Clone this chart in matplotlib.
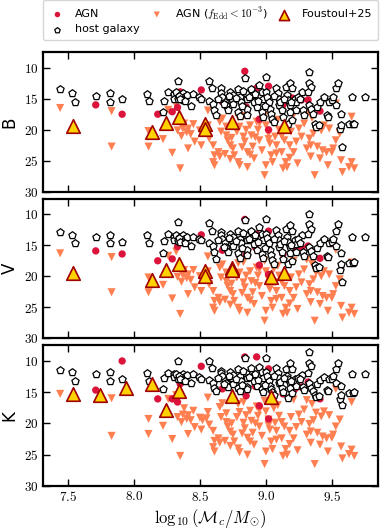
import matplotlib
matplotlib.use("Agg")
import matplotlib.pyplot as plt
from matplotlib.ticker import FixedLocator, FuncFormatter

plt.rcParams['mathtext.fontset'] = 'cm'
plt.rcParams['font.family'] = ['DejaVu Sans']

bands = ['B', 'V', 'K']

# host galaxies: mass and magnitudes per band
host_mass = [7.44, 7.53, 7.55, 7.71, 7.82, 7.82, 7.91, 8.10, 8.11, 8.22,
             8.23, 8.26, 8.30, 8.30, 8.33, 8.32, 8.35, 8.36, 8.37, 8.38,
             8.33, 8.37, 8.40, 8.43, 8.45, 8.49, 8.51, 8.57, 8.59, 8.57,
             8.60, 8.61, 8.62, 8.66, 8.66, 8.67, 8.69, 8.70, 8.71, 8.73,
             8.74, 8.75, 8.75, 8.79, 8.80, 8.81, 8.79, 8.80, 8.84, 8.85,
             8.86, 8.86, 8.86, 8.89, 8.90, 8.91, 8.93, 8.95, 8.97, 8.98,
             8.97, 8.98, 9.00, 9.00, 9.01, 9.02, 9.03, 9.04, 9.05, 9.06,
             9.08, 9.09, 9.10, 9.10, 9.12, 9.13, 9.15, 9.16, 9.17, 9.18,
             9.18, 9.17, 9.18, 9.20, 9.22, 9.23, 9.20, 9.23, 9.27, 9.28,
             9.29, 9.33, 9.33, 9.34, 9.32, 9.33, 9.34, 9.36, 9.37, 9.38,
             9.40, 9.39, 9.41, 9.44, 9.46, 9.47, 9.48, 9.50, 9.51, 9.53,
             9.55, 9.53, 9.57, 9.56, 9.57, 9.58, 9.63, 9.66, 9.67, 9.65,
             9.75, 8.34, 8.35, 8.39, 8.64, 8.68, 8.72, 8.77, 8.82, 8.87,
             8.92, 8.94, 8.99, 9.06, 9.11, 9.14, 9.19, 9.24, 9.26, 8.83]
host_B = [13.5, 14.1, 15.6, 14.5, 14.1, 15.6, 15.0, 14.2, 15.4, 17.1,
          15.3, 14.0, 14.3, 15.0, 12.1, 14.0, 14.4, 14.8, 14.1, 14.7,
          15.0, 15.2, 14.4, 16.1, 14.3, 14.7, 15.0, 12.1, 13.3, 15.4,
          15.8, 16.8, 17.6, 13.3, 14.1, 14.7, 15.5, 16.0, 16.8, 13.9,
          15.0, 14.4, 15.8, 13.5, 14.7, 15.5, 17.1, 17.8, 11.7, 14.1,
          15.0, 16.6, 17.6, 13.5, 14.4, 15.5, 16.4, 12.8, 13.9, 15.0,
          17.1, 17.9, 11.5, 13.9, 14.7, 15.5, 16.6, 17.4, 18.2, 18.7,
          13.3, 14.1, 15.0, 16.0, 16.8, 17.9, 13.1, 14.4, 15.2, 16.0,
          17.1, 19.0, 12.5, 13.3, 15.0, 15.5, 18.4, 16.8, 14.0, 16.8,
          17.6, 10.7, 12.5, 13.1, 13.9, 16.0, 16.6, 17.4, 19.0, 19.5,
          19.3, 16.3, 15.5, 14.7, 17.6, 17.9, 15.5, 15.2, 14.7, 13.3,
          12.5, 16.0, 17.4, 19.8, 19.3, 22.7, 19.0, 19.0, 19.0, 14.7,
          14.7, 14.6, 15.1, 15.4, 15.0, 15.9, 14.5, 14.9, 16.2, 14.8,
          14.2, 15.3, 16.2, 14.6, 15.5, 15.0, 15.5, 14.7, 15.1, 13.8]
host_V = [12.8, 13.3, 14.6, 13.7, 13.3, 14.7, 14.4, 13.3, 14.6, 16.2,
          14.3, 13.2, 13.6, 14.2, 11.3, 13.3, 13.6, 14.0, 13.4, 13.9,
          14.3, 14.5, 13.6, 15.1, 13.6, 13.9, 14.1, 11.4, 12.6, 14.6,
          15.1, 16.1, 17.2, 12.8, 13.4, 13.9, 14.7, 15.2, 16.0, 13.1,
          14.2, 13.6, 15.1, 12.7, 13.9, 14.7, 16.3, 17.0, 10.9, 13.4,
          14.2, 15.8, 16.6, 12.6, 13.7, 14.8, 15.7, 12.1, 13.2, 14.2,
          16.4, 17.1, 10.8, 13.1, 13.8, 14.6, 15.8, 16.5, 17.4, 18.0,
          12.5, 13.4, 14.2, 15.2, 16.1, 17.2, 12.4, 13.7, 14.5, 15.3,
          16.3, 18.1, 11.7, 12.7, 14.2, 14.8, 17.6, 16.0, 13.3, 16.0,
          16.8, 10.0, 11.6, 12.4, 13.2, 15.2, 15.9, 16.7, 18.2, 18.6,
          18.5, 15.5, 14.7, 13.9, 16.7, 16.9, 14.6, 14.4, 13.9, 12.6,
          11.6, 15.1, 16.2, 19.0, 18.0, 21.0, 17.8, 17.8, 17.7, 13.6,
          13.6, 13.8, 14.4, 14.6, 14.2, 15.3, 13.8, 14.3, 15.5, 14.0,
          13.4, 14.5, 15.5, 13.9, 14.8, 14.3, 14.9, 14.0, 14.6, 13.0]
host_K = [11.5, 11.8, 13.2, 12.2, 11.8, 13.2, 13.0, 12.0, 13.2, 14.5,
          12.7, 12.0, 12.2, 12.6, 10.0, 12.1, 12.4, 12.8, 12.2, 12.6,
          12.9, 13.1, 12.3, 13.6, 12.1, 12.6, 12.9, 10.0, 11.2, 13.1,
          13.6, 14.4, 14.8, 11.6, 12.0, 12.4, 13.2, 13.6, 14.2, 11.8,
          12.7, 12.3, 13.7, 11.3, 12.5, 13.3, 14.4, 14.9, 9.6, 12.0,
          12.8, 14.2, 14.6, 11.2, 12.4, 13.3, 14.1, 11.0, 11.8, 12.7,
          14.5, 15.0, 9.5, 11.8, 12.5, 13.2, 14.0, 14.6, 15.0, 15.4,
          11.2, 12.0, 12.8, 13.6, 14.3, 15.0, 11.3, 12.4, 13.0, 13.6,
          14.3, 15.9, 10.4, 11.4, 12.9, 13.3, 15.2, 14.1, 12.3, 14.2,
          14.7, 8.6, 10.3, 10.8, 11.9, 13.5, 14.3, 14.9, 15.4, 15.8,
          15.6, 13.8, 13.1, 12.6, 14.7, 14.9, 13.0, 12.9, 12.5, 11.4,
          10.4, 13.6, 14.1, 16.1, 15.4, 17.0, 15.1, 15.1, 15.0, 12.1,
          12.1, 12.5, 12.9, 13.2, 12.8, 13.8, 12.4, 12.9, 13.9, 12.6,
          12.1, 13.1, 13.9, 12.5, 13.4, 12.8, 13.3, 12.7, 13.0, 11.7]

# AGN with f_Edd < 1e-3
low_mass = [7.44, 7.83, 7.83, 8.11, 8.11, 8.22, 8.26, 8.29, 8.35, 8.32,
            8.33, 8.37, 8.38, 8.41, 8.43, 8.45, 8.41, 8.50, 8.51, 8.52,
            8.55, 8.56, 8.57, 8.60, 8.61, 8.64, 8.65, 8.60, 8.61, 8.65,
            8.67, 8.66, 8.70, 8.71, 8.73, 8.75, 8.76, 8.73, 8.79, 8.80,
            8.78, 8.80, 8.83, 8.84, 8.85, 8.86, 8.86, 8.88, 8.89, 8.90,
            8.91, 8.93, 8.94, 8.95, 8.97, 8.99, 9.00, 9.02, 9.00, 8.99,
            9.03, 9.04, 9.05, 9.07, 9.08, 9.09, 9.10, 9.12, 9.13, 9.14,
            9.15, 9.16, 9.18, 9.19, 9.21, 9.21, 9.23, 9.24, 9.27, 9.29,
            9.31, 9.33, 9.34, 9.34, 9.36, 9.37, 9.38, 9.39, 9.41, 9.42,
            9.43, 9.44, 9.46, 9.48, 9.50, 9.51, 9.53, 9.56, 9.57, 9.58,
            9.65, 9.65, 9.63, 9.67, 9.53, 9.47, 8.70, 8.74, 8.82, 8.88,
            8.95, 9.02, 9.08, 9.12, 9.25, 9.31, 8.56, 8.46, 8.36, 8.40,
            8.79, 8.92, 9.06, 9.18, 9.35, 8.69, 8.83]
low_B = [16.5, 17.0, 22.7, 20.2, 22.7, 21.5, 16.8, 23.7, 26.2, 16.1,
         20.1, 19.8, 19.0, 19.8, 20.7, 19.1, 23.0, 20.1, 22.5, 20.6,
         20.3, 16.9, 21.4, 22.5, 24.1, 23.6, 24.3, 25.2, 25.7, 18.7,
         18.2, 20.3, 20.9, 21.7, 22.5, 23.0, 24.1, 24.7, 25.2, 25.7,
         20.3, 19.5, 21.1, 21.9, 20.0, 23.6, 26.0, 19.3, 20.9, 22.7,
         24.6, 18.7, 20.0, 21.7, 23.3, 17.6, 19.3, 20.6, 25.7, 27.3,
         22.2, 24.1, 25.2, 21.1, 22.5, 18.4, 20.0, 23.6, 26.2, 21.7,
         25.2, 26.0, 22.5, 20.3, 17.6, 23.6, 21.9, 25.4, 21.1, 19.0,
         17.4, 21.4, 22.5, 24.3, 20.6, 27.3, 19.5, 22.7, 24.6, 20.1,
         23.3, 19.3, 23.6, 19.8, 23.6, 23.0, 15.8, 20.6, 24.9, 26.8,
         17.9, 25.2, 26.0, 26.2, 21.7, 25.7, 19.5, 21.3, 22.8, 24.0,
         19.0, 21.5, 23.8, 21.0, 19.8, 23.0, 19.3, 21.9, 21.0, 20.4,
         18.0, 21.2, 18.9, 24.5, 18.1, 23.9, 17.8]
low_V = [16.3, 16.9, 22.6, 20.2, 22.6, 21.4, 16.7, 23.6, 26.1, 16.0,
         20.1, 19.8, 19.0, 19.7, 20.6, 19.0, 22.9, 20.0, 22.4, 20.5,
         20.3, 16.8, 21.3, 22.4, 24.0, 23.5, 24.2, 25.1, 25.6, 18.6,
         18.1, 20.2, 20.8, 21.6, 22.4, 22.9, 24.0, 24.6, 25.1, 25.6,
         20.2, 19.4, 21.0, 21.8, 19.9, 23.5, 25.9, 19.2, 20.8, 22.6,
         24.5, 18.6, 19.9, 21.6, 23.2, 17.5, 19.2, 20.5, 25.6, 27.2,
         22.1, 24.0, 25.1, 21.0, 22.4, 18.3, 19.9, 23.5, 26.1, 21.6,
         25.1, 25.9, 22.4, 20.2, 17.5, 23.5, 21.8, 25.3, 21.0, 18.9,
         17.3, 21.3, 22.4, 24.2, 20.5, 27.2, 19.4, 22.6, 24.5, 20.0,
         23.2, 19.2, 23.5, 19.7, 23.5, 22.9, 15.7, 20.5, 24.8, 26.7,
         17.8, 25.1, 25.9, 26.1, 21.6, 25.6, 19.4, 21.2, 22.7, 23.9,
         18.9, 21.4, 23.7, 20.9, 19.7, 22.9, 19.2, 21.8, 20.9, 20.3,
         17.9, 21.1, 18.8, 24.4, 18.0, 23.8, 17.7]
low_K = [15.3, 16.0, 22.0, 19.3, 21.7, 20.4, 16.1, 22.5, 25.2, 15.5,
         19.0, 18.6, 17.6, 18.7, 19.5, 18.0, 21.7, 19.1, 21.0, 19.5,
         19.2, 15.9, 20.2, 21.2, 22.8, 22.4, 23.1, 23.8, 24.5, 17.4,
         16.8, 19.0, 19.8, 20.5, 21.3, 21.8, 22.9, 23.6, 24.0, 24.6,
         19.0, 18.2, 19.9, 20.8, 18.7, 22.3, 25.0, 18.0, 19.6, 21.5,
         23.4, 17.3, 18.8, 20.5, 22.0, 16.4, 18.1, 19.4, 24.5, 26.5,
         21.0, 22.9, 24.1, 19.9, 21.2, 17.1, 18.8, 22.4, 25.2, 20.5,
         24.1, 25.0, 21.2, 19.0, 16.2, 22.4, 20.6, 24.3, 19.8, 17.8,
         16.3, 20.1, 21.3, 23.1, 19.5, 26.5, 18.3, 21.5, 23.4, 18.9,
         22.1, 18.1, 22.4, 18.7, 22.3, 21.8, 14.5, 19.4, 23.7, 25.6,
         16.6, 24.2, 24.9, 25.2, 20.5, 24.5, 18.4, 20.0, 21.6, 22.9,
         17.9, 20.3, 22.6, 19.8, 18.6, 21.8, 18.2, 20.6, 19.8, 19.3,
         16.9, 20.0, 17.6, 23.3, 16.9, 22.8, 16.6]

# AGN (f_Edd >= 1e-3)
agn_mass = [7.71, 7.91, 8.18, 8.29, 8.33, 8.51, 8.84, 9.02, 9.32, 9.41,
            9.02, 8.93, 8.85, 8.95, 9.13, 8.67, 9.27, 9.20, 8.92, 8.35, 9.22]
agn_B = [16.0, 17.5, 17.5, 17.1, 16.4, 13.6, 10.6, 13.0, 15.2, 17.0,
         20.0, 13.3, 16.3, 18.3, 16.0, 15.5, 15.2, 14.9, 15.4, 13.9, 15.4]
agn_V = [15.9, 16.4, 17.5, 17.2, 15.2, 13.3, 10.8, 12.7, 15.1, 17.1,
         19.7, 13.2, 16.5, 18.2, 16.4, 15.8, 15.3, 15.2, 15.3, 13.6, 15.4]
agn_K = [14.7, 10.05, 16.1, 16.1, 16.6, 10.9, 9.4, 11.3, 13.4, 16.1,
         19.3, 9.4, 15.6, 17.2, 15.3, 14.5, 14.2, 14.0, 14.1, 13.7, 14.5]

# Foustoul+25
f_mass_B = [7.54, 8.14, 8.24, 8.34, 8.54, 8.54, 8.74, 9.14]
f_mag_B = [19.35, 20.4, 18.9, 17.9, 19.0, 19.8, 18.7, 19.4]
f_mass_V = [7.54, 8.14, 8.24, 8.34, 8.54, 8.54, 8.74, 8.74, 9.04, 9.14]
f_mag_V = [19.4, 20.6, 19.0, 18.0, 19.2, 19.9, 18.6, 19.0, 20.1, 19.4]
f_mass_K = [7.54, 7.74, 7.94, 8.14, 8.24, 8.34, 8.74, 9.04]
f_mag_K = [15.35, 15.4, 14.4, 13.8, 17.8, 14.9, 15.6, 15.85]

x_ticks = [7.5, 8.0, 8.5, 9.0, 9.5]
y_ticks = [10, 15, 20, 25, 30]

host = {'B': host_B, 'V': host_V, 'K': host_K}
low = {'B': low_B, 'V': low_V, 'K': low_K}
agn = {'B': agn_B, 'V': agn_V, 'K': agn_K}
fou = {'B': (f_mass_B, f_mag_B), 'V': (f_mass_V, f_mag_V), 'K': (f_mass_K, f_mag_K)}

W, H = 389, 530
fig = plt.figure(figsize=(W / 100, H / 100), dpi=100)
panels = [(52, 192), (199, 338), (345, 486)]
left, right = 43, 378

c_agn = '#DC143C'
c_low = '#FF7F50'
c_fou = '#FFD200'
c_fou_e = '#A00000'

handles = {}
for i, b in enumerate(bands):
    top, bot = panels[i]
    ax = fig.add_axes([left / W, 1 - bot / H, (right - left) / W, (bot - top) / H])
    h2 = ax.scatter(low_mass, low[b], marker='v', s=34, color=c_low, edgecolor='none', zorder=2)
    h1 = ax.scatter(agn_mass, agn[b], marker='o', s=28, color=c_agn, edgecolor='none', zorder=3)
    h4 = ax.scatter(host_mass, host[b], marker='p', s=30, facecolor='white', edgecolor='black',
                    linewidth=0.9, zorder=4)
    fm, fg = fou[b]
    h3 = ax.scatter(fm, fg, marker='^', s=95, facecolor=c_fou, edgecolor=c_fou_e,
                    linewidth=1.2, zorder=5)
    handles = dict(AGN=h1, low=h2, fou=h3, host=h4)
    ax.set_xlim(7.31, 9.85)
    ax.set_ylim(30, 7.5)
    ax.xaxis.set_major_locator(FixedLocator(x_ticks))
    ax.yaxis.set_major_locator(FixedLocator(y_ticks))
    ax.yaxis.set_major_formatter(FuncFormatter(lambda v, p: f'${v:g}$'))
    ax.xaxis.set_major_formatter(FuncFormatter(lambda v, p: f'${v:.1f}$'))
    ax.tick_params(direction='in', top=True, right=True, length=5, width=1.0,
                   labelsize=9.5, pad=3)
    for sp in ax.spines.values():
        sp.set_linewidth(1.6)
    ax.set_ylabel(b, fontsize=12, labelpad=4)
    if i < 2:
        ax.tick_params(labelbottom=False)
    else:
        ax.set_xlabel(r'$\log_{10}(\mathcal{M}_c/M_{\odot})$', fontsize=12, labelpad=2)

leg = fig.legend([handles['AGN'], handles['host'], handles['low'], handles['fou']],
                 ['AGN', 'host galaxy', r'AGN ($f_{\rm Edd} < 10^{-3}$)', 'Foustoul+25'],
                 ncol=3, loc='lower left', mode='expand',
                 bbox_to_anchor=(left / W, 1 - 40 / H, (right - left) / W, 37 / H),
                 fontsize=8, frameon=True, borderaxespad=0, handlelength=1.6,
                 handletextpad=0.8, labelspacing=0.45, columnspacing=0.6,
                 borderpad=0.5, markerscale=0.75)
leg.get_frame().set_edgecolor('#cccccc')

fig.savefig('out.png', dpi=100)
